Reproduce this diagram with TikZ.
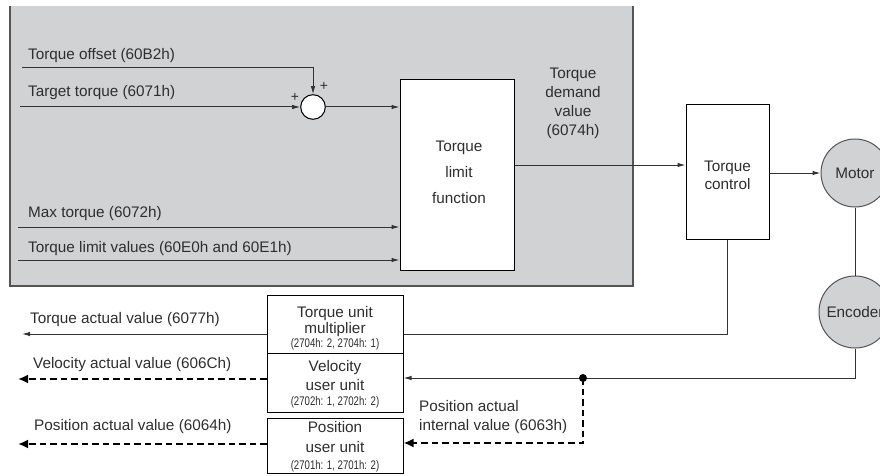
\documentclass[tikz,border=0pt]{standalone}
\usepackage{fontspec}
\setmainfont{Liberation Sans}
\newfontfamily\narrowsans{Liberation Sans}[FakeStretch=0.77]
\usetikzlibrary{arrows.meta}
\definecolor{panelgray}{HTML}{D1D2D4}
\definecolor{panelline}{HTML}{555555}
\definecolor{txt}{HTML}{2E2E2E}
\definecolor{ln}{HTML}{333333}
\newcommand{\smalltxt}{\narrowsans\fontsize{12.5}{13}\selectfont}
\begin{document}
\begin{tikzpicture}[x=1pt,y=-1pt,
  base/.style={font=\fontsize{15.3}{18}\selectfont, text=txt},
  lbl/.style={base, anchor=west, inner sep=0pt},
  blockbox/.style={draw=black, fill=white, line width=1pt, inner sep=0pt},
  boxtext/.style={base, align=center, inner sep=0pt, font=\fontsize{15.3}{17}\selectfont},
  roundbox/.style={base, circle, draw=panelline, fill=panelgray, line width=1pt, inner sep=0pt},
  conn/.style={draw=ln, line width=1pt, -{Latex[length=8pt,width=4.5pt]}},
  plain/.style={draw=ln, line width=1pt},
  dconn/.style={draw=black, line width=2.2pt, dash pattern=on 6.5pt off 4pt, -{Latex[length=10pt,width=9pt]}}
]
\useasboundingbox (0,0) rectangle (880,476);
\clip (0,0) rectangle (880,476);
% panel
\fill[panelgray] (10,6) rectangle (633,286);
\draw[panelline, line width=2pt] (10,6) -- (10,286) -- (633,286) -- (633,6);

% nodes
\node[circle, draw=black, fill=white, line width=1pt, minimum size=24.6pt, inner sep=0pt] (sum) at (313,107) {};
\node[font=\fontsize{14}{14}\selectfont, text=txt, inner sep=0pt] (pl1) at (295,97) {+};
\node[font=\fontsize{14}{14}\selectfont, text=txt, inner sep=0pt] (pl2) at (324,86) {+};
\node[blockbox, minimum width=114pt, minimum height=190pt] (tlf) at (457,175) {};
\node[boxtext] (tlft) at (459,172) {Torque\\[9pt]limit\\[9pt]function};
\node[boxtext, font=\fontsize{15.3}{19}\selectfont] (tdv) at (573,103) {Torque\\demand\\value\\(6074h)};
\node[blockbox, minimum width=83pt, minimum height=134pt] (tc) at (727.5,172) {};
\node[boxtext, font=\fontsize{15.3}{18}\selectfont] (tct) at (727.5,175) {Torque\\control};
\node[roundbox, minimum size=68pt] (motor) at (855,173) {Motor};
\node[roundbox, minimum size=72pt] (enc) at (855,312) {Encoder};
\node[blockbox, minimum width=136pt, minimum height=58pt] (tum) at (335,324) {};
\node[blockbox, minimum width=136pt, minimum height=59pt] (vuu) at (335,382.5) {};
\node[blockbox, minimum width=136pt, minimum height=55pt] (puu) at (335,445.5) {};
\node[boxtext] (tumt) at (335,328.5) {Torque unit\\[-1pt]multiplier\\[-3pt]{\smalltxt (2704h: 2, 2704h: 1)}};
\node[boxtext] (vuut) at (335,384) {Velocity\\[2pt]user unit\\[-2pt]{\smalltxt (2702h: 1, 2702h: 2)}};
\node[boxtext] (puut) at (335,446.5) {Position\\[3pt]user unit\\[0pt]{\smalltxt (2701h: 1, 2701h: 2)}};

% labels
\node[lbl] (l1) at (28,56) {Torque offset (60B2h)};
\node[lbl] (l2) at (28,93) {Target torque (6071h)};
\node[lbl] (l3) at (28,214) {Max torque (6072h)};
\node[lbl] (l4) at (28,249) {Torque limit values (60E0h and 60E1h)};
\node[lbl] (l5) at (30,320) {Torque actual value (6077h)};
\node[lbl] (l6) at (33,365) {Velocity actual value (606Ch)};
\node[lbl] (l7) at (34,427) {Position actual value (6064h)};
\node[lbl, align=left, font=\fontsize{15.3}{19}\selectfont] (l8) at (419,417) {Position actual\\internal value (6063h)};

% coordinates
\coordinate (s1) at (22,68);
\coordinate (s2) at (20,107);
\coordinate (s3) at (18,227);
\coordinate (s4) at (18,260);
\coordinate (e5) at (22,334);
\coordinate (e6) at (18,379);
\coordinate (e7) at (18,444);
\coordinate (dem) at ([yshift=10pt]tlf.east);
\coordinate (dot) at (583,378);
\coordinate (dcorner) at (583,443);

% connectors
\draw[conn] (s1) -| (sum.north);
\draw[conn] (s2) -- (sum.west);
\draw[conn] (sum.east) -- (sum.east -| tlf.west);
\draw[conn] (s3) -- (s3 -| tlf.west);
\draw[conn] (s4) -- (s4 -| tlf.west);
\draw[conn] (dem) -- (dem -| tc.west);
\draw[conn] (tc.east |- motor.west) -- (motor.west);
\draw[plain] (motor.south) -- (enc.north);
\draw[plain] (tc.south) |- (e5 -| tum.east);
\draw[conn] (e5 -| tum.west) -- (e5);
\draw[conn] (enc.south) |- (dot -| vuu.east);
\fill[black] (dot) circle (4pt);
\draw[dconn] (dot) -- (dcorner) -- (dcorner -| puu.east);
\draw[dconn] (e6 -| vuu.west) -- (e6);
\draw[dconn] (e7 -| puu.west) -- (e7);
\end{tikzpicture}
\end{document}
